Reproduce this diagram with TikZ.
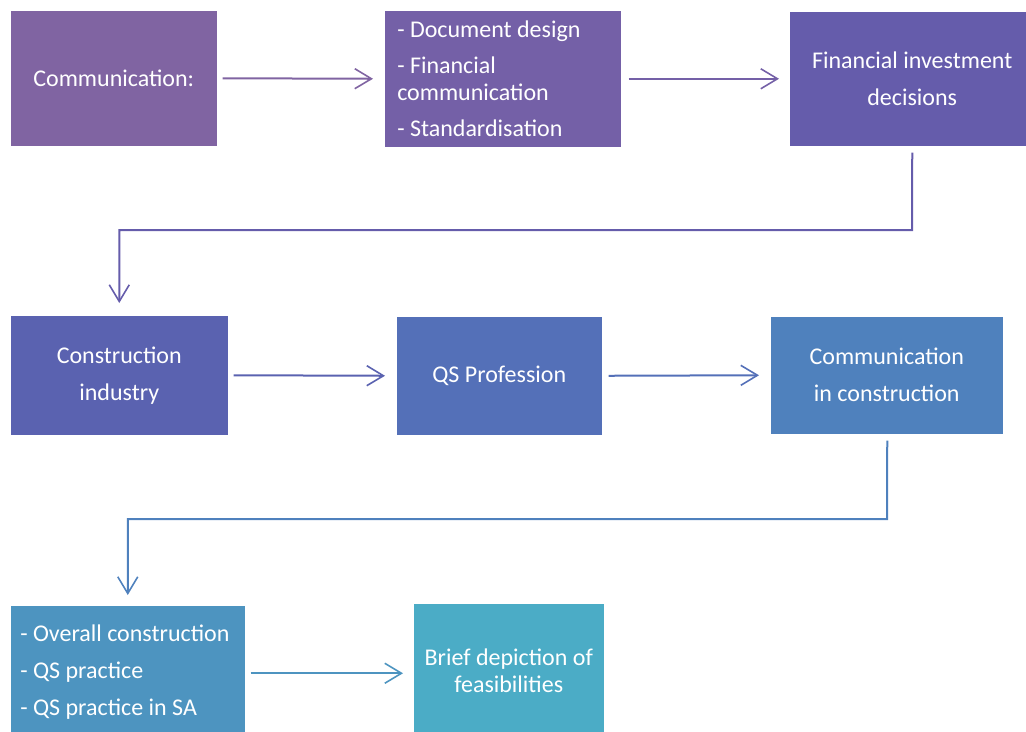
\documentclass[tikz,border=0pt]{standalone}
\usepackage{fontspec}
\setmainfont{Carlito}
\usetikzlibrary{arrows.meta}
\definecolor{cA}{HTML}{8064A2}
\definecolor{cB}{HTML}{7460A7}
\definecolor{cC}{HTML}{655CAB}
\definecolor{cD}{HTML}{5A62B0}
\definecolor{cE}{HTML}{5470B8}
\definecolor{cF}{HTML}{4F81BD}
\definecolor{cG}{HTML}{4D94C0}
\definecolor{cH}{HTML}{4BACC6}
\begin{document}
\begin{tikzpicture}[x=0.75pt,y=-0.75pt,
  box/.style={rectangle, draw=white, line width=0.4pt, text=white, inner sep=0pt,
    anchor=north west, font=\fontsize{18}{27.75}\selectfont, align=center},
  link/.style={line width=1.5pt, -{Straight Barb[length=12.5pt,width=15pt,line width=1.2pt]}}]
\useasboundingbox (0,0) rectangle (1026,732);
% first row
\node[box, fill=cA, minimum width=207*0.75pt, minimum height=136*0.75pt] (c1) at (10,10) {Communication:};
\node[box, fill=cB, minimum width=237*0.75pt, minimum height=137*0.75pt, align=flush left,
  text width=211*0.75pt, font=\fontsize{18}{20.25}\selectfont] (c2) at (384,10)
  {- Document design\\[6.75pt]- Financial\\communication\\[6.75pt]- Standardisation};
\node[box, fill=cC, minimum width=246*0.75pt, minimum height=135*0.75pt] (c3) at (789,11) {Financial investment\\decisions};
% second row
\node[box, fill=cD, minimum width=218*0.75pt, minimum height=120*0.75pt] (c4) at (10,315) {Construction\\industry};
\node[box, fill=cE, minimum width=206*0.75pt, minimum height=119*0.75pt] (c5) at (396,316) {QS Profession};
\node[box, fill=cF, minimum width=233*0.75pt, minimum height=118*0.75pt] (c6) at (770,316) {Communication\\in construction};
% third row
\node[box, fill=cG, minimum width=235*0.75pt, minimum height=134*0.75pt, align=flush left,
  text width=215*0.75pt] (c7) at (10,605)
  {- Overall construction\\- QS practice\\- QS practice in SA};
\node[box, fill=cH, minimum width=191*0.75pt, minimum height=135*0.75pt,
  font=\fontsize{18}{20.25}\selectfont] (c8) at (413,603) {Brief depiction of\\feasibilities};
% connectors
\coordinate (k1) at (912,230);
\coordinate (k2) at (887,519);
\draw[link, cA] ([xshift=5*0.75pt]c1.east) -- ([xshift=-11*0.75pt]c2.west);
\draw[link, cB] ([xshift=7*0.75pt]c2.east) -- ([xshift=-10*0.75pt]c3.west);
\draw[link, cC] ([yshift=-6*0.75pt]c3.south) -- (k1) -| ([yshift=12*0.75pt]c4.north);
\draw[link, cD] ([xshift=5*0.75pt]c4.east) -- ([xshift=-11*0.75pt]c5.west);
\draw[link, cE] ([xshift=6*0.75pt]c5.east) -- ([xshift=-11*0.75pt]c6.west);
\draw[link, cF] ([xshift=0.5*0.75pt,yshift=-6*0.75pt]c6.south) -- (k2) -| ([yshift=10*0.75pt]c7.north);
\draw[link, cG, shorten >=10*0.75pt] ([xshift=5*0.75pt,yshift=-1*0.75pt]c7.east) coordinate (s7) -- (c8.west |- s7);
\end{tikzpicture}
\end{document}
